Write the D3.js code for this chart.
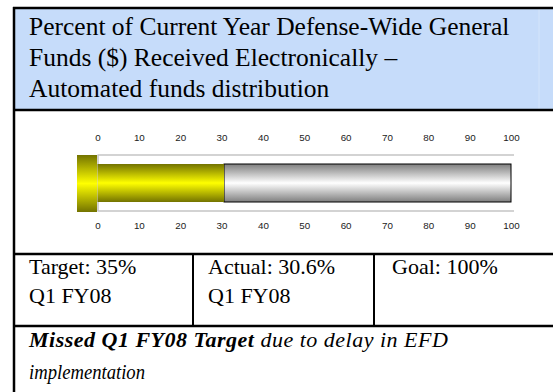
<!DOCTYPE html>
<html>
<head>
<meta charset="utf-8">
<script src="https://cdn.jsdelivr.net/npm/d3@7"></script>
<style>
  html, body { margin: 0; padding: 0; background: #fff; }
  svg { display: block; }
</style>
</head>
<body>
<svg id="chart" width="553" height="392"></svg>
<script>
// Scorecard: percent of defense-wide general funds received electronically
const titleLines = [
  "Percent of Current Year Defense-Wide General",
  "Funds ($) Received Electronically \u2013",
  "Automated funds distribution"
];
const tickValues = [0, 10, 20, 30, 40, 50, 60, 70, 80, 90, 100];
const actualValue = 30.6;
const targetValue = 35;
const goalValue = 100;
const scaleMax = 100;
const statLabels = ["Target: " + targetValue + "%", "Actual: " + actualValue + "%", "Goal: " + goalValue + "%"];
const statPeriods = ["Q1 FY08", "Q1 FY08", ""];
const noteBold = "Missed Q1 FY08 Target";
const noteRest = " due to delay in EFD";
const noteLine2 = "implementation";

const svg = d3.select("#chart");
const serif = "'Liberation Serif', 'DejaVu Serif', serif";
const sans = "'Liberation Sans', Arial, sans-serif";

// layout of the table
const L = 14, R = 560;
const rowTop = 8, rowHeadEnd = 110, rowChartEnd = 254, rowStatEnd = 326;
const colDiv = [193, 374];
const padLeft = 29;

// gradients
const defs = svg.append("defs");
function vGrad(id, stops) {
  const g = defs.append("linearGradient").attr("id", id)
    .attr("x1", 0).attr("y1", 0).attr("x2", 0).attr("y2", 1);
  stops.forEach(([o, c]) => g.append("stop").attr("offset", o).attr("stop-color", c));
}
vGrad("gYellow", [[0, "#737300"], [0.5, "#ffff00"], [1, "#737300"]]);
vGrad("gGrey", [[0, "#7e7e7e"], [0.5, "#ffffff"], [1, "#7e7e7e"]]);

// header
svg.append("rect").attr("x", L).attr("y", rowTop).attr("width", R - L).attr("height", rowHeadEnd - rowTop)
  .attr("fill", "#c6dcfa");
svg.append("line").attr("x1", 539).attr("x2", 539).attr("y1", rowTop).attr("y2", rowHeadEnd)
  .attr("stroke", "#d4e5fb").attr("stroke-width", 1);

svg.append("g").selectAll("text").data(titleLines).join("text")
  .attr("x", padLeft).attr("y", (d, i) => 35 + i * 31)
  .attr("font-family", serif).attr("font-size", 25.5).attr("fill", "#000")
  .text(d => d);

// gauge
const x = d3.scaleLinear().domain([0, scaleMax]).range([97.5, 511]);
const barY = 164, barH = 38;
const frameY0 = 155, frameY1 = 211;

const gauge = svg.append("g");
const frame = gauge.append("g").attr("stroke", "#c4c4c4").attr("stroke-width", 1.5);
frame.append("line").attr("x1", x(0)).attr("x2", x(scaleMax) + 3).attr("y1", frameY0).attr("y2", frameY0);
frame.append("line").attr("x1", x(0)).attr("x2", x(scaleMax) + 3).attr("y1", frameY1).attr("y2", frameY1);
frame.append("line").attr("x1", x(0) + 0.5).attr("x2", x(0) + 0.5).attr("y1", frameY0).attr("y2", frameY1);

gauge.append("rect").attr("x", x(actualValue)).attr("y", barY)
  .attr("width", x(scaleMax) - x(actualValue)).attr("height", barH)
  .attr("fill", "url(#gGrey)").attr("stroke", "#000").attr("stroke-width", 1);

gauge.append("rect").attr("x", x(0)).attr("y", barY)
  .attr("width", x(actualValue) - x(0)).attr("height", barH)
  .attr("fill", "url(#gYellow)");

gauge.append("rect").attr("x", x(0) - 20.5).attr("y", frameY0)
  .attr("width", 20).attr("height", frameY1 - frameY0 + 1)
  .attr("fill", "url(#gYellow)");

const topAxis = d3.axisTop(x).tickValues(tickValues).tickSize(0).tickPadding(0);
const botAxis = d3.axisBottom(x).tickValues(tickValues).tickSize(0).tickPadding(0);
function styleAxis(g) {
  g.select(".domain").remove();
  g.selectAll("text").attr("font-family", sans).attr("font-size", 9.8).attr("fill", "#222");
}
svg.append("g").attr("transform", "translate(0,141)").call(topAxis).call(styleAxis);
svg.append("g").attr("transform", "translate(0,222)").call(botAxis).call(styleAxis);

// stats row
const statX = [padLeft, 208, 392];
const stats = svg.append("g").attr("font-family", serif).attr("font-size", 22).attr("fill", "#000");
statLabels.forEach((s, i) => {
  stats.append("text").attr("x", statX[i]).attr("y", 274).text(s);
  if (statPeriods[i]) stats.append("text").attr("x", statX[i]).attr("y", 303).text(statPeriods[i]);
});

// note row
const note = svg.append("g").attr("font-family", serif).attr("font-size", 22).attr("fill", "#000")
  .attr("font-style", "italic");
const t1 = note.append("text").attr("x", padLeft).attr("y", 347).attr("letter-spacing", 0.5);
t1.append("tspan").attr("font-weight", "bold").text(noteBold);
t1.append("tspan").text(noteRest);
note.append("text").attr("x", padLeft).attr("y", 379)
  .attr("textLength", 116).attr("lengthAdjust", "spacingAndGlyphs").text(noteLine2);

// table borders
const borders = svg.append("g").attr("stroke", "#000").attr("stroke-width", 2.5);
[rowTop, rowHeadEnd, rowChartEnd, rowStatEnd].forEach(y =>
  borders.append("line").attr("x1", L - 1).attr("x2", R).attr("y1", y).attr("y2", y));
borders.append("line").attr("x1", L).attr("x2", L).attr("y1", rowTop - 1).attr("y2", 392);
colDiv.forEach(cx => borders.append("line").attr("x1", cx).attr("x2", cx)
  .attr("y1", rowChartEnd).attr("y2", rowStatEnd).attr("stroke-width", 2));
</script>
</body>
</html>
